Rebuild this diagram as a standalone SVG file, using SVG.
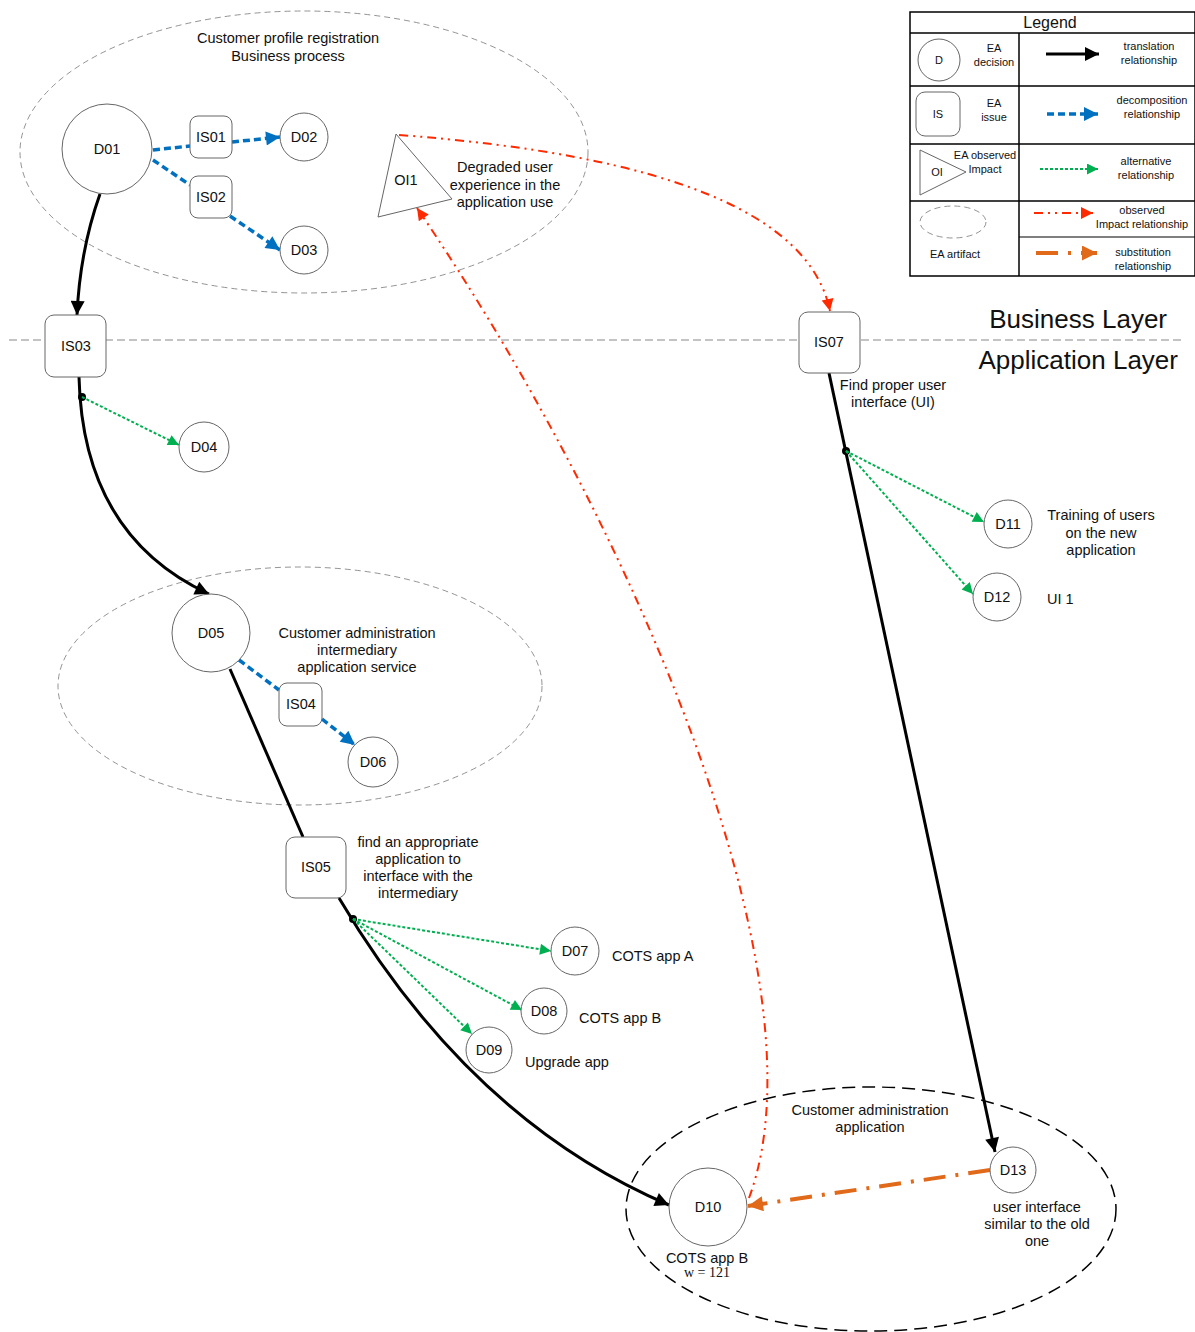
<svg xmlns="http://www.w3.org/2000/svg" width="1195" height="1332" viewBox="0 0 1195 1332">
  <style>
    text { font-family: "Liberation Sans", Arial, sans-serif; fill: #111; }
    .lbl { font-size: 14.5px; text-anchor: middle; }
    .txt { font-size: 14.5px; }
    .sm { font-size: 11px; text-anchor: middle; }
    .serif { font-family: "Liberation Serif", "Times New Roman", serif; font-size: 14px; text-anchor: middle; }
    .dec { fill: #fff; stroke: #666; stroke-width: 1; }
    .iss { fill: #fff; stroke: #666; stroke-width: 1; }
    .art { fill: none; stroke: #777; stroke-width: 0.8; stroke-dasharray: 6,4; }
    .trans { fill: none; stroke: #000; stroke-width: 3; }
    .decomp { fill: none; stroke: #0070C0; stroke-width: 3.5; stroke-dasharray: 7,4; }
    .alt { fill: none; stroke: #00B050; stroke-width: 2; stroke-dasharray: 3,2; }
    .obs { fill: none; stroke: #FF2A00; stroke-width: 2; stroke-dasharray: 9,5,2,5,2,5; }
    .subst { fill: none; stroke: #E0691A; stroke-width: 4; stroke-dasharray: 22,10,3,10; }
  </style>
  <defs>
    <marker id="arrBlack" viewBox="0 0 10 10" refX="10" refY="5" markerUnits="userSpaceOnUse" markerWidth="20" markerHeight="14" orient="auto">
      <path d="M0,0 L10,5 L0,10 z" fill="#000"/>
    </marker>
    <marker id="arrBlue" viewBox="0 0 10 10" refX="10" refY="5" markerUnits="userSpaceOnUse" markerWidth="20" markerHeight="14" orient="auto">
      <path d="M0,0 L10,5 L0,10 z" fill="#0070C0"/>
    </marker>
    <marker id="arrGreen" viewBox="0 0 10 10" refX="10" refY="5" markerUnits="userSpaceOnUse" markerWidth="15" markerHeight="11" orient="auto">
      <path d="M0,0 L10,5 L0,10 z" fill="#00B050"/>
    </marker>
    <marker id="arrRed" viewBox="0 0 10 10" refX="10" refY="5" markerUnits="userSpaceOnUse" markerWidth="16" markerHeight="12" orient="auto">
      <path d="M0,0 L10,5 L0,10 z" fill="#FF2A00"/>
    </marker>
    <marker id="arrOrange" viewBox="0 0 10 10" refX="10" refY="5" markerUnits="userSpaceOnUse" markerWidth="22" markerHeight="15" orient="auto">
      <path d="M0,0 L10,5 L0,10 z" fill="#E0691A"/>
    </marker>
  </defs>

  <rect width="1195" height="1332" fill="#fff"/>

  <!-- EA artifacts -->
  <g id="artifact-profile">
    <ellipse class="art" cx="304" cy="152" rx="284" ry="141"/>
    <text class="lbl" x="288" y="43">Customer profile registration</text>
    <text class="lbl" x="288" y="61">Business process</text>
  </g>
  <g id="artifact-intermediary">
    <ellipse class="art" cx="300" cy="686" rx="242" ry="119"/>
    <text class="lbl" x="357" y="638">Customer administration</text>
    <text class="lbl" x="357" y="655">intermediary</text>
    <text class="lbl" x="357" y="672">application service</text>
  </g>
  <g id="artifact-application">
    <ellipse cx="871" cy="1209" rx="245" ry="122" fill="none" stroke="#000" stroke-width="1.5" stroke-dasharray="13,7"/>
    <text class="lbl" x="870" y="1115">Customer administration</text>
    <text class="lbl" x="870" y="1132">application</text>
  </g>

  <!-- layer separator -->
  <g id="layers">
    <line x1="9" y1="340" x2="1183" y2="340" stroke="#888" stroke-width="1" stroke-dasharray="8,4"/>
    <text x="1167" y="328" font-size="26" text-anchor="end">Business Layer</text>
    <text x="1178" y="369" font-size="26" text-anchor="end">Application Layer</text>
  </g>

  <!-- connectors -->
  <g id="connectors">
    <!-- translation -->
    <path class="trans" d="M100,194 Q80,250 77,315" marker-end="url(#arrBlack)"/>
    <path class="trans" d="M79,377 C82,500 140,562 209,594" marker-end="url(#arrBlack)"/>
    <path class="trans" d="M230,669 L303,837"/>
    <path class="trans" d="M339,898 Q470,1120 669,1205" stroke-width="3.8" marker-end="url(#arrBlack)"/>
    <path class="trans" d="M829,373 L995,1152" marker-end="url(#arrBlack)"/>
    <circle cx="82" cy="397" r="4" fill="#000"/>
    <circle cx="353" cy="919" r="4" fill="#000"/>
    <circle cx="846" cy="451" r="4" fill="#000"/>

    <!-- decomposition -->
    <path class="decomp" d="M153,150 L190,146"/>
    <path class="decomp" d="M232,142 L280,137" marker-end="url(#arrBlue)"/>
    <path class="decomp" d="M153,160 L190,185"/>
    <path class="decomp" d="M230,216 L280,250" marker-end="url(#arrBlue)"/>
    <path class="decomp" d="M239,660 L279,690"/>
    <path class="decomp" d="M322,719 L355,745" marker-end="url(#arrBlue)"/>

    <!-- alternatives -->
    <path class="alt" d="M82,397 L179,445" marker-end="url(#arrGreen)"/>
    <path class="alt" d="M353,919 L551,951" marker-end="url(#arrGreen)"/>
    <path class="alt" d="M353,919 L522,1010" marker-end="url(#arrGreen)"/>
    <path class="alt" d="M353,919 L472,1034" marker-end="url(#arrGreen)"/>
    <path class="alt" d="M846,451 L984,522" marker-end="url(#arrGreen)"/>
    <path class="alt" d="M846,451 L973,594" marker-end="url(#arrGreen)"/>

    <!-- observed impact -->
    <path class="obs" d="M399,135 Q800,165 830,311" marker-end="url(#arrRed)"/>
    <path class="obs" d="M749,1198 C830,980 630,520 417,208" marker-end="url(#arrRed)"/>

    <!-- substitution -->
    <path class="subst" d="M990,1170 L748,1206" marker-end="url(#arrOrange)"/>
  </g>

  <!-- decisions -->
  <g id="D01"><circle class="dec" cx="107" cy="149" r="45"/><text class="lbl" x="107" y="154">D01</text></g>
  <g id="D02"><circle class="dec" cx="304" cy="137" r="24"/><text class="lbl" x="304" y="142">D02</text></g>
  <g id="D03"><circle class="dec" cx="304" cy="250" r="24"/><text class="lbl" x="304" y="255">D03</text></g>
  <g id="D04"><circle class="dec" cx="204" cy="447" r="25"/><text class="lbl" x="204" y="452">D04</text></g>
  <g id="D05"><circle class="dec" cx="211" cy="633" r="39"/><text class="lbl" x="211" y="638">D05</text></g>
  <g id="D06"><circle class="dec" cx="373" cy="762" r="25"/><text class="lbl" x="373" y="767">D06</text></g>
  <g id="D07"><circle class="dec" cx="575" cy="951" r="24"/><text class="lbl" x="575" y="956">D07</text></g>
  <g id="D08"><circle class="dec" cx="544" cy="1011" r="23"/><text class="lbl" x="544" y="1016">D08</text></g>
  <g id="D09"><circle class="dec" cx="489" cy="1050" r="23"/><text class="lbl" x="489" y="1055">D09</text></g>
  <g id="D10"><circle class="dec" cx="708" cy="1207" r="39"/><text class="lbl" x="708" y="1212">D10</text></g>
  <g id="D11"><circle class="dec" cx="1008" cy="524" r="24"/><text class="lbl" x="1008" y="529">D11</text></g>
  <g id="D12"><circle class="dec" cx="997" cy="597" r="24"/><text class="lbl" x="997" y="602">D12</text></g>
  <g id="D13"><circle class="dec" cx="1013" cy="1170" r="23"/><text class="lbl" x="1013" y="1175">D13</text></g>

  <!-- issues -->
  <g id="IS01"><rect class="iss" x="190" y="116" width="42" height="42" rx="8"/><text class="lbl" x="211" y="142">IS01</text></g>
  <g id="IS02"><rect class="iss" x="190" y="176" width="42" height="42" rx="8"/><text class="lbl" x="211" y="202">IS02</text></g>
  <g id="IS03"><rect class="iss" x="45" y="315" width="61" height="62" rx="9"/><text class="lbl" x="76" y="351">IS03</text></g>
  <g id="IS04"><rect class="iss" x="279" y="683" width="43" height="43" rx="8"/><text class="lbl" x="301" y="709">IS04</text></g>
  <g id="IS05"><rect class="iss" x="286" y="837" width="60" height="61" rx="9"/><text class="lbl" x="316" y="872">IS05</text></g>
  <g id="IS07"><rect class="iss" x="799" y="312" width="61" height="61" rx="9"/><text class="lbl" x="829" y="347">IS07</text></g>

  <!-- observed impact -->
  <g id="OI1">
    <polygon points="396,134 378,217 452,199" fill="#fff" stroke="#666" stroke-width="1"/>
    <text class="lbl" x="406" y="185">OI1</text>
    <text class="lbl" x="505" y="172">Degraded user</text>
    <text class="lbl" x="505" y="190">experience in the</text>
    <text class="lbl" x="505" y="207">application use</text>
  </g>

  <!-- annotations -->
  <g id="notes">
    <text class="lbl" x="893" y="390">Find proper user</text>
    <text class="lbl" x="893" y="407">interface (UI)</text>
    <text class="lbl" x="1101" y="520">Training of users</text>
    <text class="lbl" x="1101" y="538">on the new</text>
    <text class="lbl" x="1101" y="555">application</text>
    <text class="txt" x="1047" y="604">UI 1</text>
    <text class="lbl" x="418" y="847">find an appropriate</text>
    <text class="lbl" x="418" y="864">application to</text>
    <text class="lbl" x="418" y="881">interface with the</text>
    <text class="lbl" x="418" y="898">intermediary</text>
    <text class="txt" x="612" y="961">COTS app A</text>
    <text class="txt" x="579" y="1023">COTS app B</text>
    <text class="txt" x="525" y="1067">Upgrade app</text>
    <text class="lbl" x="707" y="1263">COTS app B</text>
    <text class="serif" x="707" y="1277">w = 121</text>
    <text class="lbl" x="1037" y="1212">user interface</text>
    <text class="lbl" x="1037" y="1229">similar to the old</text>
    <text class="lbl" x="1037" y="1246">one</text>
  </g>

  <!-- legend -->
  <g id="legend">
    <rect x="910" y="12" width="285" height="264" fill="#fff" stroke="#000" stroke-width="1.5"/>
    <line x1="910" y1="33" x2="1195" y2="33" stroke="#000" stroke-width="1.5"/>
    <line x1="910" y1="86" x2="1195" y2="86" stroke="#000" stroke-width="1.5"/>
    <line x1="910" y1="144" x2="1195" y2="144" stroke="#000" stroke-width="1.5"/>
    <line x1="910" y1="201" x2="1195" y2="201" stroke="#000" stroke-width="1.5"/>
    <line x1="1019" y1="237" x2="1195" y2="237" stroke="#000" stroke-width="1"/>
    <line x1="1019" y1="33" x2="1019" y2="276" stroke="#000" stroke-width="1.5"/>
    <text x="1050" y="28" font-size="16" text-anchor="middle">Legend</text>

    <circle class="dec" cx="939" cy="60" r="21"/>
    <text class="sm" x="939" y="64">D</text>
    <text class="sm" x="994" y="52">EA</text>
    <text class="sm" x="994" y="66">decision</text>

    <rect class="iss" x="916" y="92" width="44" height="44" rx="9"/>
    <text class="sm" x="938" y="118">IS</text>
    <text class="sm" x="994" y="107">EA</text>
    <text class="sm" x="994" y="121">issue</text>

    <polygon points="920,150 920,195 966,172" fill="#fff" stroke="#666" stroke-width="1"/>
    <text class="sm" x="937" y="176">OI</text>
    <text class="sm" x="985" y="159">EA observed</text>
    <text class="sm" x="985" y="173">Impact</text>

    <ellipse class="art" cx="953" cy="222" rx="33" ry="16"/>
    <text class="sm" x="955" y="258">EA artifact</text>

    <line class="trans" x1="1046" y1="54" x2="1099" y2="54" stroke-width="4" marker-end="url(#arrBlack)"/>
    <text class="sm" x="1149" y="50">translation</text>
    <text class="sm" x="1149" y="64">relationship</text>

    <line class="decomp" x1="1047" y1="114" x2="1098" y2="114" marker-end="url(#arrBlue)"/>
    <text class="sm" x="1152" y="104">decomposition</text>
    <text class="sm" x="1152" y="118">relationship</text>

    <line class="alt" x1="1040" y1="169" x2="1098" y2="169" marker-end="url(#arrGreen)"/>
    <text class="sm" x="1146" y="165">alternative</text>
    <text class="sm" x="1146" y="179">relationship</text>

    <line class="obs" x1="1034" y1="213" x2="1093" y2="213" marker-end="url(#arrRed)"/>
    <text class="sm" x="1142" y="214">observed</text>
    <text class="sm" x="1142" y="228">Impact relationship</text>

    <line class="subst" x1="1036" y1="253" x2="1097" y2="253" stroke-dasharray="24,14" marker-end="url(#arrOrange)"/>
    <text class="sm" x="1143" y="256">substitution</text>
    <text class="sm" x="1143" y="270">relationship</text>
  </g>
</svg>
